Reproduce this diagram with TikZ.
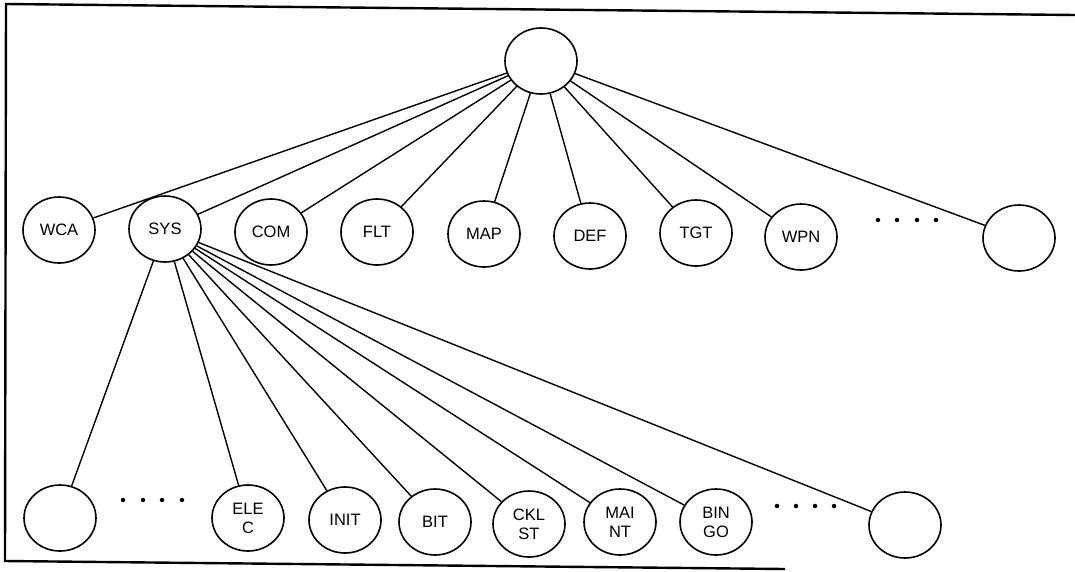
\documentclass[tikz,border=0pt]{standalone}
\usepackage{fontspec}
\setmainfont{Liberation Sans}
\usetikzlibrary{shapes.geometric}
\begin{document}
\begin{tikzpicture}[x=1pt,y=-1pt,
  nd/.style={draw, ellipse, line width=1.6pt, minimum width=72pt, minimum height=66pt,
             inner sep=0pt, align=center, font=\fontsize{16.5}{19}\selectfont},
  edge/.style={line width=1.4pt},
  dotnd/.style={fill, circle, inner sep=0pt, minimum size=4.5pt},
  frameline/.style={line width=2.4pt}]
\useasboundingbox (0,0) rectangle (1075,571);
% frame
\coordinate (fa) at (1075,15);
\coordinate (fb) at (6,4);
\coordinate (fc) at (5,561);
\coordinate (fd) at (785,569);
\draw[frameline] (fa) -- (fb) -- (fc) -- (fd);
% top
\node[nd] (top) at (541,61) {};
% middle row
\node[nd] (wca) at (59,230) {WCA};
\node[nd] (sys) at (165,229) {SYS};
\node[nd] (com) at (271,232) {COM};
\node[nd] (flt) at (377,232) {FLT};
\node[nd] (map) at (484,234) {MAP};
\node[nd] (def) at (590,236) {DEF};
\node[nd] (tgt) at (696,233) {TGT};
\node[nd] (wpn) at (801,237) {WPN};
\node[nd] (mr) at (1019,238) {};
\node[dotnd] (m1) at (878,220) {};
\node[dotnd] (m2) at (897,220) {};
\node[dotnd] (m3) at (917,220) {};
\node[dotnd] (m4) at (936,220) {};
% bottom row
\node[nd] (bl) at (60,518) {};
\node[dotnd] (b1) at (123,500) {};
\node[dotnd] (b2) at (143,500) {};
\node[dotnd] (b3) at (162,500) {};
\node[dotnd] (b4) at (182,500) {};
\node[nd] (elec) at (248,518) {ELE\\C};
\node[nd] (init) at (345,520) {INIT};
\node[nd] (bit) at (435,522) {BIT};
\node[nd] (cklst) at (529,524) {CKL\\ST};
\node[nd] (maint) at (620,522) {MAI\\NT};
\node[nd] (bingo) at (716,522) {BIN\\GO};
\node[dotnd] (r1) at (777,506) {};
\node[dotnd] (r2) at (796,506) {};
\node[dotnd] (r3) at (815,506) {};
\node[dotnd] (r4) at (834,506) {};
\node[nd] (br) at (905,525) {};
% edges top
\foreach \n in {wca,sys,com,flt,map,def,tgt,wpn,mr}
  \draw[edge] (top) -- (\n);
% edges sys
\foreach \n in {bl,elec,init,bit,cklst,maint,bingo,br}
  \draw[edge] (sys) -- (\n);
\end{tikzpicture}
\end{document}
